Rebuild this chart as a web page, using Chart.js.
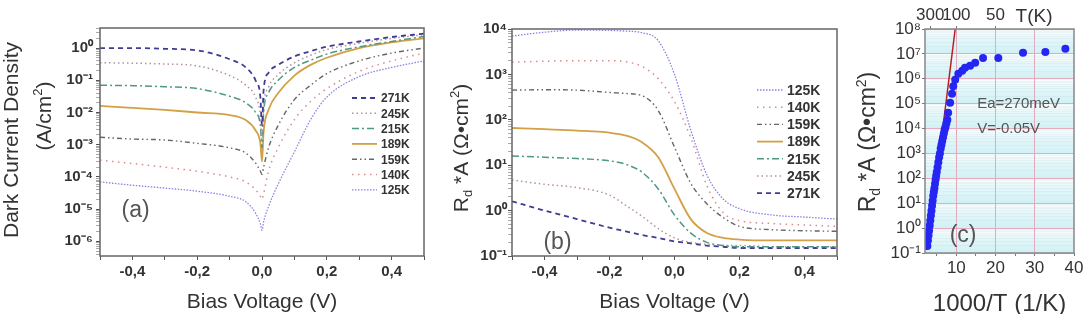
<!DOCTYPE html>
<html>
<head>
<meta charset="utf-8">
<script src="https://cdn.jsdelivr.net/npm/chart.js@4.4.1/dist/chart.umd.min.js"></script>
<style>
  html, body { margin: 0; padding: 0; background: #fff; }
  #wrap { position: relative; width: 1088px; height: 314px; overflow: hidden; }
  canvas { position: absolute; top: 0; }
</style>
</head>
<body>
<div id="wrap">
  <canvas id="chartA" width="440" height="314" style="left:0"></canvas>
  <canvas id="chartB" width="405" height="314" style="left:440px"></canvas>
  <canvas id="chartC" width="243" height="314" style="left:845px"></canvas>
</div>
<script>
// ---- data: panel (a) dark current density vs bias ----
const tempsA = ['271K', '245K', '215K', '189K', '159K', '140K', '125K'];
const biasA = [-0.5, -0.4, -0.3, -0.2, -0.1, -0.05, -0.02, -0.005, 0, 0.005, 0.02, 0.05, 0.1, 0.15, 0.2, 0.3, 0.4, 0.5];
const jd271 = [1.0, 1.0, 0.95, 0.85, 0.45, 0.25, 0.1, 0.03, 0.004, 0.05, 0.17, 0.3, 0.55, 0.8, 1.1, 1.6, 2.2, 2.8];
const jd245 = [0.35, 0.34, 0.32, 0.28, 0.14, 0.07, 0.03, 0.008, 0.0015, 0.015, 0.06, 0.15, 0.35, 0.6, 0.9, 1.4, 2.0, 2.6];
const jd215 = [0.07, 0.068, 0.063, 0.055, 0.032, 0.02, 0.01, 0.004, 0.0008, 0.01, 0.04, 0.1, 0.25, 0.42, 0.65, 1.1, 1.6, 2.3];
const jd189 = [0.016, 0.014, 0.012, 0.01, 0.0083, 0.0058, 0.0028, 0.0011, 0.0003, 0.0025, 0.012, 0.04, 0.14, 0.3, 0.5, 1.0, 1.5, 2.0];
const jd159 = [0.0017, 0.0015, 0.0014, 0.0011, 0.0008, 0.00055, 0.00027, 0.00015, 0.00012, 0.0002, 0.0008, 0.004, 0.025, 0.07, 0.16, 0.4, 0.7, 1.0];
const jd140 = [3.3e-4, 2.6e-4, 2e-4, 1.5e-4, 1e-4, 7e-5, 4e-5, 2.5e-5, 2e-5, 3e-5, 1.5e-4, 8e-4, 6e-3, 0.022, 0.055, 0.19, 0.4, 0.7];
const jd125 = [7e-5, 5.5e-5, 4.5e-5, 3.6e-5, 2.5e-5, 1.7e-5, 7.5e-6, 3.5e-6, 2.2e-6, 4e-6, 1.2e-5, 6e-5, 6e-4, 6e-3, 0.03, 0.13, 0.25, 0.4];

// ---- data: panel (b) Rd*A vs bias ----
const tempsB = ['125K', '140K', '159K', '189K', '215K', '245K', '271K'];
const biasB = [-0.5, -0.4, -0.3, -0.2, -0.15, -0.1, -0.05, 0, 0.05, 0.1, 0.15, 0.2, 0.3, 0.4, 0.5];
const rd125 = [7000, 8500, 9500, 9300, 9000, 8300, 5500, 1000, 60, 6, 1.8, 1.1, 0.8, 0.72, 0.65];
const rd140 = [1850, 1950, 2000, 2000, 1900, 1500, 800, 250, 40, 3.5, 0.9, 0.6, 0.52, 0.48, 0.45];
const rd159 = [450, 460, 450, 400, 380, 340, 160, 25, 4, 1.4, 0.7, 0.45, 0.38, 0.36, 0.35];
const rd189 = [66, 62, 58, 52, 45, 32, 15, 3, 0.65, 0.32, 0.25, 0.23, 0.22, 0.22, 0.22];
const rd215 = [16, 15, 14, 12.5, 10.5, 7, 3, 0.8, 0.32, 0.2, 0.17, 0.16, 0.16, 0.16, 0.16];
const rd245 = [4.7, 3.8, 3.2, 2.2, 1.3, 0.75, 0.4, 0.25, 0.2, 0.18, 0.17, 0.17, 0.16, 0.16, 0.16];
const rd271 = [1.6, 1.0, 0.65, 0.42, 0.35, 0.29, 0.25, 0.21, 0.19, 0.17, 0.16, 0.15, 0.15, 0.15, 0.15];

// ---- data: panel (c) Arrhenius plot ----
const invT = [2.6, 2.75, 2.9, 3.05, 3.2, 3.35, 3.5, 3.65, 3.8, 3.95, 4.1, 4.25, 4.4, 4.55, 4.7, 4.85, 5.0,
  5.2, 5.4, 5.6, 5.8, 6.0, 6.2, 6.4, 6.6, 6.8, 7.0, 7.2, 7.45, 7.7, 7.9, 8.4, 8.9, 9.2, 9.7,
  10.5, 11.5, 12.2, 13.5, 14.8, 16.8, 20.7, 27.0, 32.7, 37.8];
const rdaC = [0.19, 0.32, 0.5, 0.79, 1.26, 2.0, 3.2, 5.0, 7.9, 12.6, 20, 28, 40, 60, 89, 126, 178,
  282, 447, 708, 1000, 1585, 2240, 3160, 4470, 6310, 8910, 11200, 15800, 22400, 43600, 110000, 250000, 500000, 910000,
  1.6e6, 2.1e6, 2.75e6, 3.3e6, 4.4e6, 6.9e6, 6.9e6, 1.1e7, 1.2e7, 1.6e7];
const fitInvT = [2.8, 9.7];
const fitRdA = [0.19, 1e8];
const tempTicks = [300, 100, 50];
const biasTicks = [-0.5, -0.4, -0.3, -0.2, -0.1, 0, 0.1, 0.2, 0.3, 0.4, 0.5];
const invTTicks = [5, 10, 15, 20, 25, 30, 35, 40];

const seriesA = { '271K': jd271, '245K': jd245, '215K': jd215, '189K': jd189, '159K': jd159, '140K': jd140, '125K': jd125 };
const seriesB = { '125K': rd125, '140K': rd140, '159K': rd159, '189K': rd189, '215K': rd215, '245K': rd245, '271K': rd271 };

// line look per temperature
const lineStyle = {
  '271K': { color: '#3d3d94', dash: [5, 4], width: 1.8 },
  '245K': { color: '#b391a0', dash: [1.5, 3], width: 1.5 },
  '215K': { color: '#4f9886', dash: [7, 3, 2, 3], width: 1.5 },
  '189K': { color: '#d3a046', dash: [], width: 1.8 },
  '159K': { color: '#666666', dash: [5, 3, 1.5, 3, 1.5, 3], width: 1.4 },
  '140K': { color: '#d48c8c', dash: [1.5, 4.5], width: 1.5 },
  '125K': { color: '#8d80e2', dash: [1.5, 1.5], width: 1.3 }
};

const FONT = '"Liberation Sans", Arial, sans-serif';
const INK = '#333';
Chart.defaults.font.family = FONT;
Chart.defaults.color = INK;

const SUP = { '-': '⁻', '0': '⁰', '1': '¹', '2': '²', '3': '³', '4': '⁴', '5': '⁵', '6': '⁶', '7': '⁷', '8': '⁸', '9': '⁹' };
function powLabel(v) {
  const e = Math.log10(v);
  if (Math.abs(e - Math.round(e)) > 1e-6) return '';
  return '10' + String(Math.round(e)).split('').map(c => SUP[c]).join('');
}
function biasLabel(v) {
  const t = Math.round(v * 10);
  if (t % 2 !== 0) return '';
  return (t / 10).toFixed(1).replace('.', ',');
}
// 1..9 x 10^n ticks inside the scale range
function logTicks(scale) {
  const ticks = [];
  const lo = Math.floor(Math.log10(scale.min)), hi = Math.ceil(Math.log10(scale.max));
  for (let e = lo; e <= hi; e++) {
    for (let m = 1; m < 10; m++) {
      const v = m * Math.pow(10, e);
      if (v >= scale.min * 0.999 && v <= scale.max * 1.001) ticks.push({ value: v, major: m === 1 });
    }
  }
  scale.ticks = ticks;
}

function drawRich(ctx, parts, x, y, o) {
  const size = o.size;
  const fontFor = p => `${o.weight || 'normal'} ${p[1] ? Math.round(size * 0.62) : size}px ${FONT}`;
  ctx.save();
  ctx.translate(x, y);
  if (o.rotate) ctx.rotate(o.rotate);
  let total = 0;
  parts.forEach(p => { ctx.font = fontFor(p); total += ctx.measureText(p[0]).width; });
  let cx = o.align === 'left' ? 0 : -total / 2;
  ctx.fillStyle = o.color || INK;
  ctx.textBaseline = 'alphabetic';
  parts.forEach(p => {
    ctx.font = fontFor(p);
    const dy = p[1] === 'sup' ? -size * 0.4 : p[1] === 'sub' ? size * 0.22 : 0;
    ctx.fillText(p[0], cx, size * 0.36 + dy);
    cx += ctx.measureText(p[0]).width;
  });
  ctx.restore();
}

function notesPlugin(list) {
  return {
    id: 'notes',
    afterDraw(chart) {
      list.forEach(n => {
        const [x, y] = n.pos(chart);
        drawRich(chart.ctx, n.parts, x, y, n);
      });
    }
  };
}

function framePlugin(color) {
  return {
    id: 'frame',
    afterDraw(chart) {
      const { ctx, chartArea: a } = chart;
      ctx.save();
      ctx.strokeStyle = color;
      ctx.lineWidth = 1.5;
      ctx.strokeRect(a.left, a.top, a.right - a.left, a.bottom - a.top);
      ctx.restore();
    }
  };
}

function legendPlugin(o) {
  return {
    id: 'inlegend',
    afterDatasetsDraw(chart) {
      const ctx = chart.ctx;
      ctx.save();
      chart.data.datasets.forEach((ds, i) => {
        const y = o.y + i * o.step;
        ctx.strokeStyle = ds.borderColor;
        ctx.lineWidth = ds.borderWidth;
        ctx.setLineDash(ds.borderDash);
        ctx.beginPath();
        ctx.moveTo(o.x, y);
        ctx.lineTo(o.x + o.len, y);
        ctx.stroke();
        ctx.setLineDash([]);
        ctx.fillStyle = INK;
        ctx.font = `bold ${o.size}px ${FONT}`;
        ctx.textBaseline = 'middle';
        ctx.fillText(ds.label, o.x + o.len + 4, y + 1);
      });
      ctx.restore();
    }
  };
}

function curveSet(temps, xs, series) {
  return temps.map(t => ({
    label: t,
    data: xs.map((x, i) => ({ x: x, y: series[t][i] })),
    borderColor: lineStyle[t].color,
    borderDash: lineStyle[t].dash,
    borderWidth: lineStyle[t].width,
    pointRadius: 0,
    fill: false,
    cubicInterpolationMode: 'monotone'
  }));
}

function biasAxis(fontSize, height) {
  return {
    type: 'linear', min: -0.5, max: 0.5,
    afterBuildTicks: s => { s.ticks = biasTicks.map(v => ({ value: v })); },
    afterFit: s => { s.height = height; },
    border: { display: false },
    grid: { drawOnChartArea: false, drawTicks: true, tickLength: 4, color: '#555' },
    ticks: { autoSkip: false, maxRotation: 0, padding: 3, color: INK,
      font: { size: fontSize, weight: 'bold' }, callback: v => biasLabel(v) }
  };
}

function logAxis(min, max, width, fontSize, pad) {
  return {
    type: 'logarithmic', min: min, max: max,
    afterBuildTicks: logTicks,
    afterFit: s => { s.width = width; },
    border: { display: false },
    grid: { drawOnChartArea: false, drawTicks: true, tickLength: 4,
      tickColor: c => (c.tick && c.tick.major ? '#555' : '#aaa') },
    ticks: { autoSkip: false, padding: pad, color: INK,
      font: { size: fontSize, weight: 'bold' }, callback: v => powLabel(v) }
  };
}

const baseOpts = {
  responsive: false,
  animation: false,
  events: [],
  plugins: { legend: { display: false }, tooltip: { enabled: false } }
};

// ---- panel (a) ----
new Chart(document.getElementById('chartA'), {
  type: 'line',
  data: { datasets: curveSet(tempsA, biasA, seriesA) },
  options: Object.assign({}, baseOpts, {
    layout: { padding: { top: 28, right: 16, left: 0, bottom: 0 } },
    scales: { x: biasAxis(15, 58), y: logAxis(3.5e-7, 4.2, 100, 15, 3) }
  }),
  plugins: [
    framePlugin('#666'),
    legendPlugin({ x: 352, y: 98, step: 15.3, len: 25, size: 12 }),
    notesPlugin([
      { parts: [['Dark Current Density', '']], size: 21, rotate: -Math.PI / 2, pos: c => [10, 140] },
      { parts: [['(A/cm', ''], ['2', 'sup'], [')', '']], size: 21, rotate: -Math.PI / 2, pos: c => [43, 116] },
      { parts: [['Bias Voltage (V)', '']], size: 21, pos: c => [(c.chartArea.left + c.chartArea.right) / 2, 300] },
      { parts: [['(a)', '']], size: 23, color: '#555',
        pos: c => [c.scales.x.getPixelForValue(-0.39), c.scales.y.getPixelForValue(1e-5)] }
    ])
  ]
});

// ---- panel (b) ----
new Chart(document.getElementById('chartB'), {
  type: 'line',
  data: { datasets: curveSet(tempsB, biasB, seriesB) },
  options: Object.assign({}, baseOpts, {
    layout: { padding: { top: 29, right: 8, left: 0, bottom: 0 } },
    scales: { x: biasAxis(15, 58), y: logAxis(0.1, 1e4, 72, 15, 1) }
  }),
  plugins: [
    framePlugin('#666'),
    legendPlugin({ x: 317, y: 90, step: 17.2, len: 26, size: 14 }),
    notesPlugin([
      { parts: [['R', ''], ['d', 'sub'], [' *A (Ω•cm', ''], ['2', 'sup'], [')', '']], size: 21,
        rotate: -Math.PI / 2, pos: c => [20, 148] },
      { parts: [['Bias Voltage (V)', '']], size: 21, pos: c => [(c.chartArea.left + c.chartArea.right) / 2, 300] },
      { parts: [['(b)', '']], size: 23, color: '#555',
        pos: c => [c.scales.x.getPixelForValue(-0.36), c.scales.y.getPixelForValue(0.22)] }
    ])
  ]
});

// ---- panel (c) ----
const bandsPlugin = {
  id: 'bands',
  beforeDraw(chart) {
    const { ctx, chartArea: a, scales: { y } } = chart;
    ctx.save();
    const lo = Math.round(Math.log10(y.min)), hi = Math.round(Math.log10(y.max));
    for (let e = lo; e < hi; e++) {
      const yb = y.getPixelForValue(Math.pow(10, e));
      const yt = y.getPixelForValue(Math.pow(10, e + 1));
      const g = ctx.createLinearGradient(0, yb, 0, yt);
      g.addColorStop(0, '#d0f1f5');
      g.addColorStop(0.6, '#e4f7f9');
      g.addColorStop(1, '#ffffff');
      ctx.fillStyle = g;
      ctx.fillRect(a.left, yt, a.right - a.left, yb - yt);
    }
    ctx.restore();
  }
};

new Chart(document.getElementById('chartC'), {
  type: 'scatter',
  data: {
    datasets: [
      { label: 'Rd*A', data: invT.map((x, i) => ({ x: x, y: rdaC[i] })),
        backgroundColor: '#2626f2', borderWidth: 0, pointRadius: 4 },
      { label: 'fit', type: 'line', data: fitInvT.map((x, i) => ({ x: x, y: fitRdA[i] })),
        borderColor: '#b52222', borderWidth: 1.5, pointRadius: 0, fill: false }
    ]
  },
  options: Object.assign({}, baseOpts, {
    layout: { padding: { top: 0, right: 14, left: 0, bottom: 0 } },
    scales: {
      x: {
        type: 'linear', min: 2, max: 40,
        afterBuildTicks: s => { s.ticks = invTTicks.map(v => ({ value: v })); },
        afterFit: s => { s.height = 61; },
        border: { display: false },
        grid: { drawTicks: true, tickLength: 3,
          color: c => (c.tick && c.tick.value % 10 === 0 && c.tick.value < 40 ? '#e6aabd' : 'rgba(0,0,0,0)'),
          tickColor: '#777' },
        ticks: { autoSkip: false, maxRotation: 0, padding: 2, color: INK, font: { size: 17 },
          callback: v => (v % 10 === 0 ? String(v) : '') }
      },
      xTop: {
        type: 'linear', position: 'top', min: 2, max: 40,
        afterBuildTicks: s => { s.ticks = tempTicks.map(t => ({ value: 1000 / t })); },
        afterFit: s => { s.height = 29; },
        border: { display: false },
        grid: { drawOnChartArea: false, drawTicks: true, tickLength: 3, color: '#777' },
        ticks: { autoSkip: false, maxRotation: 0, padding: 0, color: INK, font: { size: 17 },
          callback: v => String(Math.round(1000 / v)) }
      },
      y: {
        type: 'logarithmic', min: 0.1, max: 1e8,
        afterBuildTicks: logTicks,
        afterFit: s => { s.width = 80; },
        border: { display: false },
        grid: { drawTicks: true, tickLength: 3,
          color: c => (c.tick && c.tick.major ? '#e6aabd' : 'rgba(150,180,195,0.10)'),
          tickColor: c => (c.tick && c.tick.major ? '#777' : 'rgba(0,0,0,0)') },
        ticks: { autoSkip: false, padding: 1, color: INK, font: { size: 17 }, callback: v => powLabel(v) }
      }
    }
  }),
  plugins: [
    bandsPlugin,
    framePlugin('#888'),
    notesPlugin([
      { parts: [['R', ''], ['d', 'sub'], [' *A (Ω•cm', ''], ['2', 'sup'], [')', '']], size: 23,
        rotate: -Math.PI / 2, pos: c => [22, 142] },
      { parts: [['1000/T (1/K)', '']], size: 24, pos: c => [(c.chartArea.left + c.chartArea.right) / 2, 302] },
      { parts: [['T(K)', '']], size: 19, pos: c => [c.chartArea.right - 40, 15] },
      { parts: [['(c)', '']], size: 23, color: '#555',
        pos: c => [c.scales.x.getPixelForValue(11.7), c.scales.y.getPixelForValue(0.57)] },
      { parts: [['Ea=270meV', '']], size: 15, color: '#555', align: 'left',
        pos: c => [c.scales.x.getPixelForValue(15.3), c.scales.y.getPixelForValue(1.1e5)] },
      { parts: [['V=-0.05V', '']], size: 15, color: '#555', align: 'left',
        pos: c => [c.scales.x.getPixelForValue(15.3), c.scales.y.getPixelForValue(1.1e4)] }
    ])
  ]
});
</script>
</body>
</html>
